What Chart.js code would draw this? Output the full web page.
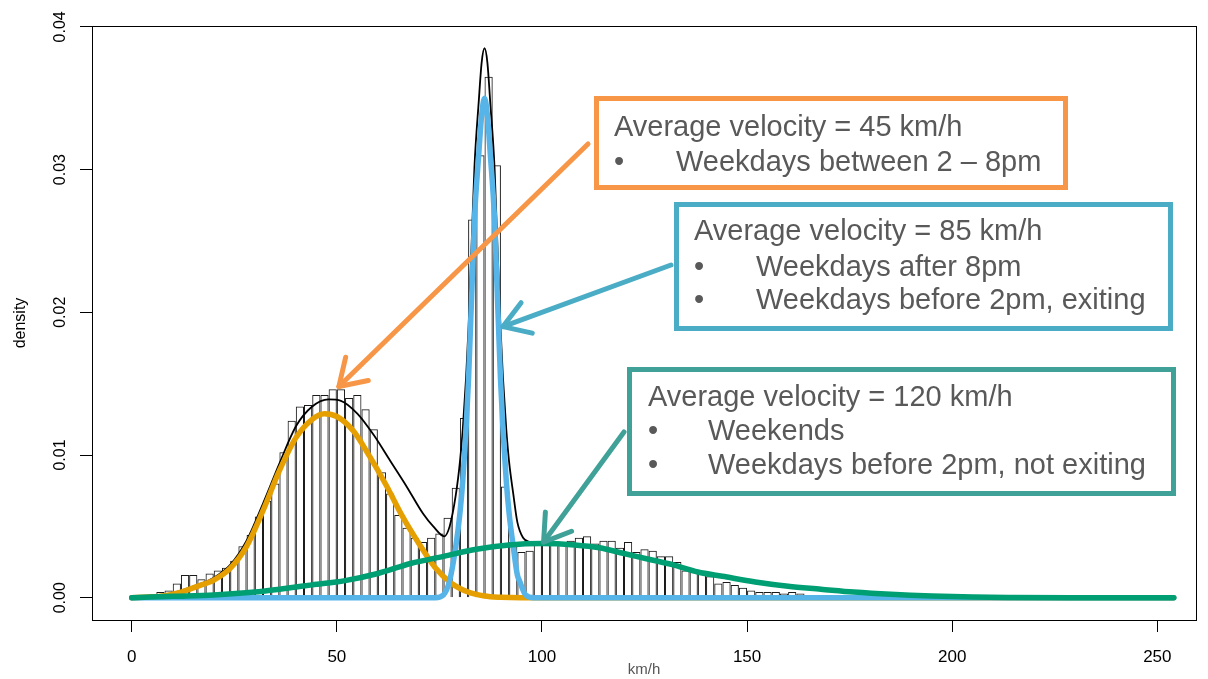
<!DOCTYPE html>
<html><head><meta charset="utf-8">
<script src="https://cdn.jsdelivr.net/npm/chart.js@4.4.1/dist/chart.umd.min.js"></script>
<style>html,body{margin:0;padding:0;background:#fff}canvas{display:block}</style>
</head><body>
<canvas id="c" width="1208" height="679"></canvas>
<script>
// ---------- data ----------
const binStart = 0;
const binWidth = 2;
const histDensity = [
 0.00002,0.0001,0.0002,0.0004,0.0005,0.0010,0.0016,0.0016,0.0013,0.0017,
 0.0019,0.0021,0.0026,0.0036,0.0044,0.0057,0.0068,0.0080,0.0102,0.0124,
 0.0134,0.0135,0.0142,0.0142,0.0146,0.0146,0.0140,0.0142,0.0132,0.0118,
 0.0088,0.0073,0.0058,0.0049,0.0042,0.0039,0.0042,0.0045,0.0056,0.0077,
 0.0126,0.0265,0.0310,0.0365,0.0303,0.0078,0.0039,0.0032,0.0033,0.0037,
 0.0037,0.0038,0.0039,0.0040,0.0042,0.0043,0.0038,0.0040,0.0040,0.0035,
 0.0039,0.0032,0.0034,0.0033,0.0029,0.0029,0.0025,0.0019,0.0018,0.0017,
 0.0015,0.0010,0.0011,0.0009,0.0007,0.0005,0.0004,0.0004,0.0004,0.0003,
 0.0004,0.0003,0.0002,0.00015,0.0001,0.0001,0.00005,0.00003,0,0,
 0,0,0,0,0,0,0,0,0,0,
 0,0,0,0,0,0,0,0,0,0,
 0,0,0,0,0,0,0,0,0,0,
 0,0,0,0,0,0,0
];

const blackX = [0,8,12,16,20,24,28,32,36,40,44,48,51,55,59,63,67,71,73.5,76.2,77.5,79.0,80.0,80.7,81.5,82.1,82.65,82.95,83.55,84.6,85.3,86.0,86.7,87.4,88.45,89.05,89.35,89.9,90.5,91.3,92.0,93.0,94.0,95.4,97.1,100,108,114,120,126,132,138,144,152,160,168,176,185,195,205,215,230,254];
const blackY = [0,0.0002,0.0005,0.0009,0.0014,0.0023,0.0040,0.0066,0.0094,0.0120,0.0134,0.0139,0.0138,0.0129,0.0114,0.0096,0.0078,0.0059,0.0050,0.0043,0.0050,0.0072,0.0095,0.0118,0.0154,0.0189,0.0232,0.0255,0.0302,0.0348,0.0375,0.0385,0.0375,0.0347,0.0301,0.0254,0.0231,0.0189,0.0154,0.0118,0.0095,0.0073,0.0053,0.0042,0.0039,0.0038,0.0037,0.0035,0.0031,0.0027,0.0023,0.0018,0.0015,0.0011,0.0008,0.0006,0.0004,0.00024,0.00012,0.00005,0.00002,0,0];

const orangeX = [0,4,8,12,16,20,24,28,32,36,40,44,47,50,54,58,62,66,70,74,78,82,86,90,95,100,254];
const orangeY = [0,0.00005,0.00015,0.0004,0.0008,0.00124,0.00206,0.0036,0.0061,0.0089,0.0112,0.0125,0.0129,0.0127,0.0117,0.0099,0.0079,0.0057,0.0038,0.0021,0.0010,0.0004,0.00012,0.00003,0,0,0];

const blueX = [0,74,76,77.5,79.0,80.0,80.7,81.5,82.1,82.65,82.95,83.55,84.6,85.3,86.0,86.7,87.4,88.45,89.05,89.35,89.9,90.5,91.3,92.0,93.0,94.0,94.5,96,98,254];
const blueY = [0,0,0.0002,0.0012,0.0036,0.0059,0.0082,0.0118,0.0153,0.0195,0.0218,0.0265,0.0311,0.0338,0.0350,0.0338,0.0311,0.0265,0.0218,0.0195,0.0153,0.0118,0.0082,0.0059,0.0036,0.0016,0.0012,0.0002,0,0];

const greenX = [0,10,20,30,36,44,52,60,68,76,84,92,100,108,114,120,126,132,138,144,152,160,168,176,185,195,205,215,230,254];
const greenY = [0,0.0001,0.0002,0.0004,0.0006,0.0009,0.0012,0.0017,0.0024,0.0029,0.0034,0.0037,0.0038,0.0037,0.0035,0.0031,0.0027,0.0023,0.0018,0.0015,0.0011,0.0008,0.0006,0.0004,0.00024,0.00012,0.00005,0.00002,0,0];

const xTickValues = [0,50,100,150,200,250];
const xTickLabels = ['0','50','100','150','200','250'];
const yTickValues = [0,0.01,0.02,0.03,0.04];
const yTickLabels = ['0.00','0.01','0.02','0.03','0.04'];
const xTitle = 'km/h';
const yTitle = 'density';

const note45 = ['Average velocity = 45 km/h', 'Weekdays between 2 \u2013 8pm'];
const note85 = ['Average velocity = 85 km/h', 'Weekdays after 8pm', 'Weekdays before 2pm, exiting'];
const note120 = ['Average velocity = 120 km/h', 'Weekends', 'Weekdays before 2pm, not exiting'];
// arrow tips, in data units (km/h, density)
const tip45 = [50.5, 0.0148];
const tip85 = [90.5, 0.0190];
const tip120 = [100.4, 0.0039];

// ---------- chart ----------
const FONT = "'Liberation Sans', Arial, Helvetica, sans-serif";
Chart.defaults.font.family = FONT;

const pts = (xs, ys) => xs.map((x, i) => ({x: x, y: ys[i]}));
const lineDs = (label, xs, ys, color, w, order) => ({
  type: 'line', label, data: pts(xs, ys), borderColor: color, borderWidth: w,
  pointRadius: 0, fill: false, cubicInterpolationMode: 'monotone',
  borderCapStyle: 'round', borderJoinStyle: 'round', order
});

const frameAndNotes = {
  id: 'frameAndNotes',
  afterDraw(chart) {
    const ctx = chart.ctx, a = chart.chartArea;
    const xs = chart.scales.x, ys = chart.scales.y;
    ctx.save();
    // box around plot region
    ctx.strokeStyle = '#000'; ctx.lineWidth = 1;
    ctx.strokeRect(Math.round(a.left) + 0.5, Math.round(a.top) + 0.5, Math.round(a.right - a.left), Math.round(a.bottom - a.top));
    // rotated y tick labels
    ctx.fillStyle = '#000';
    ctx.font = '16px ' + FONT;
    ctx.textAlign = 'center'; ctx.textBaseline = 'middle';
    yTickValues.forEach((v, i) => {
      ctx.save();
      ctx.translate(61, ys.getPixelForValue(v));
      ctx.rotate(-Math.PI / 2);
      ctx.fillText(yTickLabels[i], 0, 0);
      ctx.restore();
    });
    // annotations
    const arrow = (x1, y1, tip, color) => {
      const x2 = xs.getPixelForValue(tip[0]), y2 = ys.getPixelForValue(tip[1]);
      ctx.save();
      ctx.strokeStyle = color; ctx.lineWidth = 5; ctx.lineCap = 'round'; ctx.lineJoin = 'round';
      ctx.beginPath(); ctx.moveTo(x1, y1); ctx.lineTo(x2, y2); ctx.stroke();
      const ang = Math.atan2(y2 - y1, x2 - x1), s = Math.PI / 5.5, h = 30;
      ctx.beginPath();
      ctx.moveTo(x2 - h * Math.cos(ang - s), y2 - h * Math.sin(ang - s));
      ctx.lineTo(x2, y2);
      ctx.lineTo(x2 - h * Math.cos(ang + s), y2 - h * Math.sin(ang + s));
      ctx.stroke();
      ctx.restore();
    };
    const box = (x, y, w, h, color, lines, tx, bx, y0, dy) => {
      ctx.save();
      ctx.fillStyle = '#fff'; ctx.fillRect(x, y, w, h);
      ctx.strokeStyle = color; ctx.lineWidth = 5; ctx.strokeRect(x, y, w, h);
      ctx.fillStyle = '#595959'; ctx.font = '29px ' + FONT;
      ctx.textAlign = 'left'; ctx.textBaseline = 'middle';
      ctx.fillText(lines[0], tx, y0);
      for (let i = 1; i < lines.length; i++) {
        ctx.fillText('\u2022', tx, y0 + dy[i - 1]);
        ctx.fillText(lines[i], bx, y0 + dy[i - 1]);
      }
      ctx.restore();
    };
    arrow(588, 144, tip45, '#F79646');
    arrow(671, 265, tip85, '#4BACC6');
    arrow(624, 432, tip120, '#3FA197');
    box(596.5, 98.5, 469, 89, '#F79646', note45, 614, 676, 128, [35]);
    box(676.5, 204.5, 494, 124, '#4BACC6', note85, 694, 756, 232, [36, 69]);
    box(629.5, 369.5, 544, 124, '#3FA197', note120, 648, 708, 398, [34, 68]);
    ctx.restore();
  }
};

new Chart(document.getElementById('c'), {
  type: 'bar',
  data: {
    datasets: [
      lineDs('mixture', blackX, blackY, '#000000', 1.8, 4),
      lineDs('slow', orangeX, orangeY, '#E69F00', 5.5, 3),
      lineDs('mid', blueX, blueY, '#56B4E9', 5.5, 2),
      lineDs('fast', greenX, greenY, '#009E73', 5.5, 1),
      {
        type: 'bar', label: 'histogram',
        data: histDensity.map((d, i) => ({x: binStart + binWidth * (i + 0.5), y: d})),
        backgroundColor: 'rgba(255,255,255,0)', borderColor: '#1a1a1a', borderWidth: 1,
        barPercentage: 1, categoryPercentage: 1, inflateAmount: 0, order: 5
      }
    ]
  },
  options: {
    responsive: false, animation: false, devicePixelRatio: 1,
    layout: {padding: {top: 26, right: 12, left: 0, bottom: 0}},
    plugins: {legend: {display: false}, tooltip: {enabled: false}},
    scales: {
      x: {
        type: 'linear', min: -9.68, max: 259.43, offset: false,
        afterBuildTicks: s => { s.ticks = xTickValues.map(v => ({value: v})); },
        afterFit: s => { s.height = 59; },
        grid: {drawOnChartArea: false, drawTicks: true, tickLength: 12, color: '#000', lineWidth: 1, offset: false},
        border: {display: true, color: '#000', width: 1},
        ticks: {autoSkip: false, maxRotation: 0, color: '#000', font: {size: 17}, padding: 15,
                callback: (v) => xTickLabels[xTickValues.indexOf(v)] ?? ''},
        title: {display: true, text: xTitle, color: '#555', font: {size: 15}, padding: {top: 0, bottom: 0}}
      },
      y: {
        type: 'linear', min: -0.00156, max: 0.04006,
        afterBuildTicks: s => { s.ticks = yTickValues.map(v => ({value: v})); },
        afterFit: s => { s.width = 92; },
        grid: {drawOnChartArea: false, drawTicks: true, tickLength: 12, color: '#000', lineWidth: 1},
        border: {display: true, color: '#000', width: 1},
        ticks: {display: false},
        title: {display: true, text: yTitle, color: '#000', font: {size: 16}, padding: {top: 11, bottom: 0}}
      }
    }
  },
  plugins: [frameAndNotes]
});
</script>
</body></html>
